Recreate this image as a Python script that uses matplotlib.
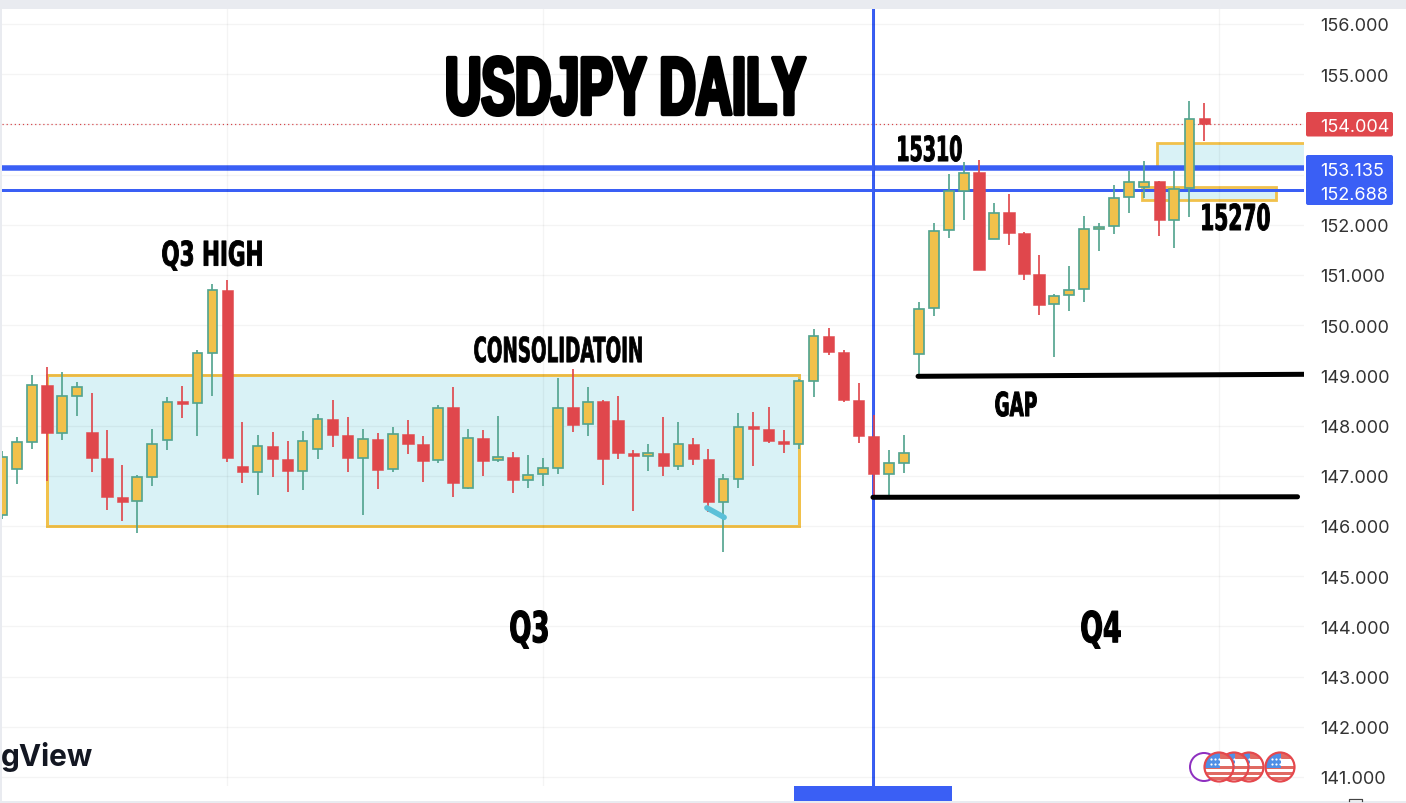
#!/usr/bin/env python3
import numpy as np
import matplotlib
matplotlib.use('Agg')
import matplotlib.pyplot as plt
from matplotlib.font_manager import FontProperties
from matplotlib.patches import Rectangle, Circle, FancyBboxPatch
from matplotlib.patheffects import AbstractPathEffect
from matplotlib.textpath import TextPath
from matplotlib.transforms import Affine2D

# daily candles, oldest first
opens = [146.22, 147.13, 147.68, 148.81, 147.85, 148.58, 147.87, 147.36, 146.57, 146.49,
         146.98, 147.71, 148.48, 148.44, 149.45, 150.69, 147.19, 147.07, 147.59, 147.33,
         147.10, 147.54, 148.13, 147.82, 147.36, 147.74, 147.14, 147.84, 147.64, 147.31,
         148.36, 146.75, 147.76, 147.31, 147.38, 146.92, 147.03, 147.16, 148.36, 148.02,
         148.48, 148.11, 147.46, 147.40, 147.46, 147.20, 147.64, 147.34, 146.47, 146.94,
         148.00, 147.93, 147.69, 147.63, 148.89, 149.78, 149.46, 148.51, 147.79, 147.03,
         147.25, 149.42, 150.34, 151.89, 152.68, 153.04, 151.72, 152.25, 151.83, 151.02,
         150.42, 150.60, 150.72, 151.92, 151.97, 152.55, 152.76, 152.87, 152.10, 152.73,
         154.12]
highs = [147.49, 147.77, 149.01, 149.17, 149.06, 148.87, 148.64, 147.92, 147.21, 147.01,
         147.93, 148.57, 148.79, 149.51, 150.82, 150.90, 148.07, 147.82, 147.87, 147.70,
         147.89, 148.23, 148.50, 148.16, 147.94, 147.85, 147.97, 148.11, 147.79, 148.41,
         148.77, 147.94, 147.91, 148.18, 147.48, 147.42, 147.36, 148.94, 149.13, 148.77,
         148.51, 148.58, 147.52, 147.64, 148.17, 148.06, 147.76, 147.53, 147.04, 148.25,
         148.27, 148.37, 147.92, 148.92, 149.92, 149.95, 149.50, 148.84, 148.21, 147.51,
         147.82, 150.47, 152.04, 153.01, 153.24, 153.28, 152.44, 152.61, 151.86, 151.39,
         150.61, 151.18, 152.17, 152.04, 152.80, 153.06, 153.26, 152.87, 153.06, 154.46,
         154.42]
lows = [146.13, 146.84, 147.54, 146.89, 147.72, 148.19, 147.08, 146.31, 146.10, 145.85,
        146.80, 147.51, 148.15, 147.79, 148.58, 147.28, 146.85, 146.61, 146.97, 146.68,
        146.72, 147.34, 147.57, 147.08, 146.22, 146.73, 147.07, 147.44, 146.88, 147.26,
        146.57, 146.74, 147.00, 147.28, 146.66, 146.76, 146.79, 147.04, 147.87, 147.80,
        146.82, 147.34, 146.30, 147.10, 147.00, 147.12, 147.22, 146.28, 145.48, 146.76,
        147.20, 147.66, 147.46, 147.53, 148.56, 149.40, 148.47, 147.65, 146.60, 146.60,
        147.06, 149.00, 150.18, 151.73, 152.10, 151.10, 151.72, 151.60, 150.90, 150.20,
        149.36, 150.28, 150.46, 151.48, 151.82, 152.23, 152.54, 151.77, 151.54, 152.16,
        153.66]
closes = [147.38, 147.68, 148.81, 147.85, 148.58, 148.77, 147.36, 146.57, 146.48, 146.98,
          147.63, 148.47, 148.43, 149.45, 150.69, 147.36, 147.07, 147.59, 147.33, 147.09,
          147.69, 148.13, 147.82, 147.36, 147.73, 147.11, 147.83, 147.63, 147.30, 148.35,
          146.86, 147.75, 147.30, 147.38, 146.92, 147.02, 147.16, 148.35, 148.01, 148.47,
          147.33, 147.45, 147.39, 147.45, 147.19, 147.63, 147.33, 146.47, 146.93, 147.98,
          147.94, 147.69, 147.63, 148.88, 149.78, 149.46, 148.51, 147.79, 147.03, 147.25,
          147.45, 150.33, 151.88, 152.67, 153.02, 151.10, 152.24, 151.83, 151.02, 150.41,
          150.58, 150.70, 151.91, 151.96, 152.54, 152.86, 152.86, 152.09, 152.71, 154.10,
          154.00]

price_ticks = list(range(141, 157))
price_labels = ['%d.000' % p if p not in (153, 154) else '' for p in price_ticks]
grid_days = [15, 36, 58, 81]

last_price = 154.004
level_high = 153.135
level_low = 152.688
quarter_day = 58

BLUE = '#3a5ff5'
RED = '#e0474c'
YELLOW = '#f1c14b'
GREEN = '#53a48f'
FILL = '#d9f2f6'
STRIP = '#e9ebf0'

W, H = 1406, 804
fig = plt.figure(figsize=(W / 100, H / 100), dpi=100, facecolor='white')


def px(v):
    return v * 72 / 100


class Squeeze(AbstractPathEffect):
    # narrows the glyphs sideways and fattens them, the look of a heavy condensed face
    def __init__(self, sx, lw):
        self.sx = sx
        self.lw = lw

    def draw_path(self, renderer, gc, tpath, affine, rgbFace=None):
        x0 = affine.get_matrix()[0, 2]
        squeezed = affine + Affine2D().translate(-x0, 0).scale(self.sx, 1).translate(x0, 0)
        gc0 = renderer.new_gc()
        gc0.copy_properties(gc)
        gc0.set_linewidth(px(self.lw))
        gc0.set_foreground('black')
        gc0.set_joinstyle('round')
        renderer.draw_path(gc0, tpath, squeezed, rgbFace)
        gc0.restore()


ax = fig.add_axes([2 / W, 1 - 787 / H, 1302 / W, 777 / H])
ax.set_xlim(0, 86.63)
ax.set_ylim(152 - (787 - 225.7) / 50.2, 152 + 215.7 / 50.2)
for s in ax.spines.values():
    s.set_visible(False)
ax.set_xticks(grid_days)
ax.set_xticklabels([])
ax.set_yticks(price_ticks)
ax.set_yticklabels(price_labels, family='Inter', fontsize=13, color='#333333')
ax.yaxis.tick_right()
ax.tick_params(length=0, pad=px(16))
ax.grid(True, color='#000000', alpha=0.045, lw=px(1.4), zorder=1)
ax.set_axisbelow(False)
for ln in ax.get_xgridlines() + ax.get_ygridlines():
    ln.set_zorder(1)

# zones
ax.add_patch(Rectangle((3, 146), 50, 3, fc=FILL, ec=YELLOW, lw=px(3), zorder=0.5))
ax.add_patch(Rectangle((76.85, level_high), 12, 153.62 - level_high, fc=FILL, ec=YELLOW, lw=px(2.8), zorder=0.5))
ax.add_patch(Rectangle((75.85, 152.50), 8.95, 0.26, fc=FILL, ec=YELLOW, lw=px(2.8), zorder=0.5))

# levels
ax.axhline(last_price, color=RED, lw=px(1.2), ls=(0, (1, 2.4)), zorder=1.5)
ax.axhline(level_high, color=BLUE, lw=px(5.5), zorder=2)
ax.axhline(level_low, color=BLUE, lw=px(3), zorder=2)
ax.axvline(quarter_day - 0.03, color=BLUE, lw=px(3), zorder=2)

# candles
days = np.arange(len(opens))
o, h, l, c = map(np.array, (opens, highs, lows, closes))
up = c >= o
ax.vlines(days[up], l[up], h[up], color=GREEN, lw=px(1.7), zorder=3)
ax.vlines(days[~up], l[~up], h[~up], color=RED, lw=px(1.7), zorder=3)
ax.bar(days[up], (c - o)[up], bottom=o[up], width=0.64, color=YELLOW, edgecolor=GREEN, lw=px(1.7), zorder=4)
ax.bar(days[~up], (o - c)[~up], bottom=c[~up], width=0.76, color=RED, edgecolor=RED, lw=px(0.5), zorder=4)

# hand drawn marks
ax.plot([60.95, 86.7], [148.98, 149.02], color='black', lw=px(5), solid_capstyle='round', zorder=5)
ax.plot([57.95, 86.2], [146.57, 146.58], color='black', lw=px(5), solid_capstyle='round', zorder=5)
ax.plot([46.9, 48.05], [146.36, 146.17], color='#5bc0d8', lw=px(5.5), solid_capstyle='round', zorder=5)

# page furniture and text, drawn in image pixels
ov = fig.add_axes([0, 0, 1, 1], zorder=5)
ov.set_xlim(0, W)
ov.set_ylim(H, 0)
ov.axis('off')
ov.patch.set_alpha(0)

ov.add_patch(Rectangle((0, 0), W, 10, fc=STRIP, ec='none'))
ov.add_patch(Rectangle((0, 0), 2, H, fc=STRIP, ec='none'))
ov.add_patch(Rectangle((0, 802), W, 2, fc=STRIP, ec='none'))
ov.add_patch(Rectangle((794, 787), 158, 15, fc=BLUE, ec='none'))
ov.plot([1349, 1349, 1362, 1362], [802, 799.5, 799.5, 802], color='#444444', lw=px(1.2))


def value_box(y0, y1, text, color):
    ov.add_patch(FancyBboxPatch((1306, y0), 87, y1 - y0, boxstyle='round,pad=0,rounding_size=2',
                                fc=color, ec='none'))
    ov.text(1320, (y0 + y1) / 2, text, family='Inter', fontsize=13, color='white', va='center_baseline')


value_box(113, 137.5, '154.004', RED)
value_box(156, 183, '153.135', BLUE)
value_box(181, 206, '152.688', BLUE)


def label(text, x0, y0, x1, y1, lw, family='DejaVu Sans'):
    # fit the label into its box in the picture
    fp = FontProperties(family=family, weight='bold')
    box = TextPath((0, 0), text, size=100, prop=fp).get_extents()
    k = (y1 - y0 - lw) / box.height
    sx = (x1 - x0 - lw) / (box.width * k)
    base = y1 - lw / 2 + box.y0 * k
    left = x0 + lw / 2 - box.x0 * k * sx
    ov.text(left, base, text, fontproperties=fp, fontsize=k * 100 * 0.72, color='black',
            va='baseline', ha='left', path_effects=[Squeeze(sx, lw)])


label('USDJPY DAILY', 446, 56, 807, 118, 4.2, family='Liberation Sans')
label('Q3 HIGH', 162, 241, 262, 272, 0.9)
label('CONSOLIDATOIN', 474, 337, 642, 364, 0.7)
label('GAP', 995, 392, 1037, 418, 0.9)
label('15310', 898, 136, 962, 163, 0.9)
label('15270', 1202, 204, 1270, 232, 0.9)
label('Q3', 510, 611, 548, 650, 1.2)
label('Q4', 1081, 611, 1121, 650, 1.2)

ov.text(93, 766.5, 'gView', family='Inter', weight='bold', fontsize=21.5, color='#131722', ha='right', va='baseline')


# event badges
def flag(cx, cy, r=14.5):
    disc = Circle((cx, cy), r, fc='white', ec='none')
    ov.add_patch(disc)
    for top in (cy - 1.5, cy + 5, cy + 10):
        st = Rectangle((cx - r, top), 2 * r, 3.2, fc='#e06a62', ec='none')
        ov.add_patch(st)
        st.set_clip_path(disc)
    st = Rectangle((cx - r, cy - r), 2 * r, 6, fc='#e06a62', ec='none')
    ov.add_patch(st)
    st.set_clip_path(disc)
    cant = Rectangle((cx - r, cy - r), r + 1, r + 0.5, fc='#4f8fe6', ec='none')
    ov.add_patch(cant)
    cant.set_clip_path(disc)
    ov.scatter([cx - 8, cx - 4, cx, cx - 8, cx - 4, cx], [cy - 8, cy - 8, cy - 8, cy - 3.5, cy - 3.5, cy - 3.5],
               s=2.5, color='white', lw=0)
    ov.add_patch(Circle((cx, cy), r, fc='none', ec='#e5484d', lw=px(2.2)))


ov.add_patch(Circle((1204, 768), 14, fc='white', ec='#8e2fc0', lw=px(2)))
flag(1280, 768)
flag(1249, 768)
flag(1234, 768)
flag(1219, 768)

fig.savefig('out.png', dpi=100)
